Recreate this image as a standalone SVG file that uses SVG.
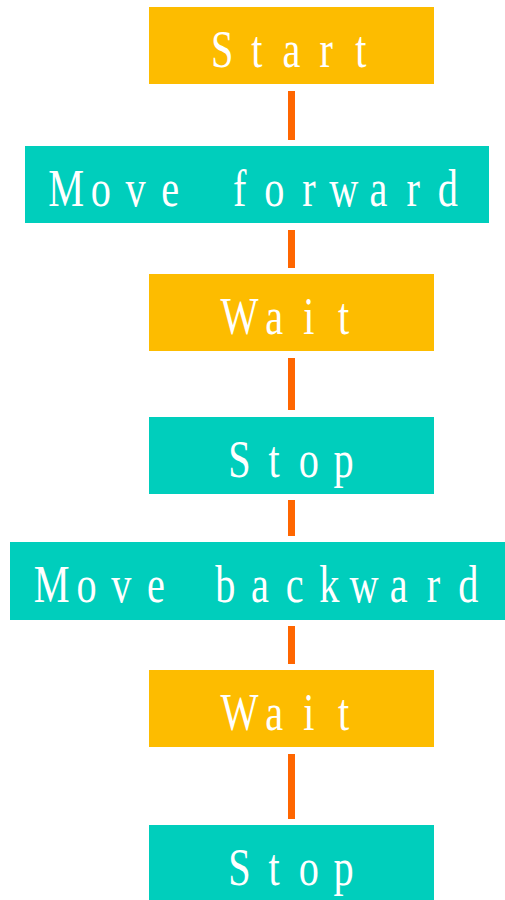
<svg xmlns="http://www.w3.org/2000/svg" width="505" height="900" viewBox="0 0 505 900">
  <style>
    .o { fill: #FDBC00; }
    .t { fill: #00CEBC; }
    .lbl { fill: #FFFFFF; font-family: "Liberation Serif", "DejaVu Serif", serif; font-size: 53px; text-anchor: middle; }
    .c { stroke: #FF6600; stroke-width: 7; fill: none; }
  </style>
  <rect width="505" height="900" fill="#FFFFFF"/>
  <g id="connectors">
    <line class="c" x1="291.5" y1="91" x2="291.5" y2="140"/>
    <line class="c" x1="291.5" y1="230" x2="291.5" y2="268"/>
    <line class="c" x1="291.5" y1="358" x2="291.5" y2="410"/>
    <line class="c" x1="291.5" y1="500" x2="291.5" y2="536"/>
    <line class="c" x1="291.5" y1="626" x2="291.5" y2="664"/>
    <line class="c" x1="291.5" y1="754" x2="291.5" y2="819"/>
  </g>
  <g id="start">
    <rect class="o" x="149" y="7" width="285" height="77"/>
    <text class="lbl" transform="translate(291.5,66.5) scale(0.76,1)" x="-91.3 -45.7 0 45.7 91.3" y="0">Start</text>
  </g>
  <g id="move-forward">
    <rect class="t" x="25" y="146" width="464" height="77"/>
    <text class="lbl" transform="translate(257,205.5) scale(0.76,1)" x="-251.1 -205.5 -159.8 -114.2 -68.5 -22.8 22.8 68.5 114.2 159.8 205.5 251.1" y="0">Move forward</text>
  </g>
  <g id="wait-1">
    <rect class="o" x="149" y="274" width="285" height="77"/>
    <text class="lbl" transform="translate(291.5,333.5) scale(0.76,1)" x="-68.5 -22.8 22.8 68.5" y="0">Wait</text>
  </g>
  <g id="stop-1">
    <rect class="t" x="149" y="417" width="285" height="77"/>
    <text class="lbl" transform="translate(291.5,476.5) scale(0.76,1)" x="-68.5 -22.8 22.8 68.5" y="0">Stop</text>
  </g>
  <g id="move-backward">
    <rect class="t" x="10" y="542" width="500" height="78"/>
    <text class="lbl" transform="translate(260,601.5) scale(0.76,1)" x="-274.0 -228.3 -182.6 -137.0 -91.3 -45.7 0 45.7 91.3 137.0 182.6 228.3 274.0" y="0">Move backward</text>
  </g>
  <g id="wait-2">
    <rect class="o" x="149" y="670" width="285" height="77"/>
    <text class="lbl" transform="translate(291.5,729.5) scale(0.76,1)" x="-68.5 -22.8 22.8 68.5" y="0">Wait</text>
  </g>
  <g id="stop-2">
    <rect class="t" x="149" y="825" width="285" height="77"/>
    <text class="lbl" transform="translate(291.5,884.5) scale(0.76,1)" x="-68.5 -22.8 22.8 68.5" y="0">Stop</text>
  </g>
</svg>
